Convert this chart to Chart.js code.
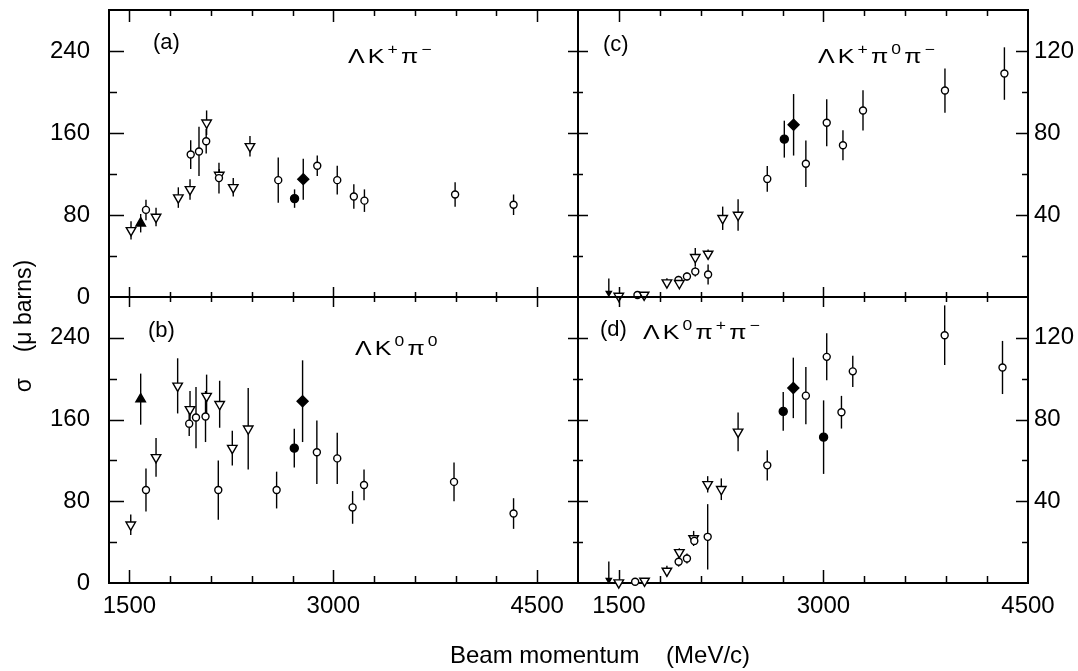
<!DOCTYPE html>
<html>
<head>
<meta charset="utf-8">
<script src="https://cdn.jsdelivr.net/npm/chart.js@4.4.0/dist/chart.umd.min.js"></script>
<style>
  html, body { margin: 0; padding: 0; background: #fff; }
  #wrap { position: relative; width: 1078px; height: 671px; }
  #wrap canvas { position: absolute; left: 0; top: 0; }
</style>
</head>
<body>
<div id="wrap">
  <canvas id="pa" width="1078" height="671"></canvas>
  <canvas id="pb" width="1078" height="671"></canvas>
  <canvas id="pc" width="1078" height="671"></canvas>
  <canvas id="pd" width="1078" height="671"></canvas>
</div>
<script>
// symbols: o open circle, v open down-triangle, t filled triangle,
// f filled circle, d filled diamond, arrow = upper limit
// (a) ΛK+π-
const momA = [1512, 1583, 1622, 1696, 1860, 1946, 1951, 2012, 2068, 2065, 2161, 2159, 2264, 2387, 2595, 2715, 2779, 2882, 3029, 3151, 3229, 3896, 4326];
const sigA = [65, 72, 85, 78, 97, 105, 139, 142, 170, 152, 119, 116, 107, 147, 114, 96, 115, 128, 114, 98, 94, 100, 90];
const errA = [9, 9, 10, 9, 10, 10, 14, 24, 12, 12, 6, 15, 9, 10, 22, 9, 20, 10, 14, 12, 11, 12, 10];
const symA = ['v', 't', 'o', 'v', 'v', 'v', 'o', 'o', 'v', 'o', 'v', 'o', 'v', 'v', 'o', 'f', 'd', 'o', 'o', 'o', 'o', 'o', 'o'];

// (b) ΛK0π0
const momB = [1510, 1583, 1622, 1696, 1855, 1946, 1940, 1990, 2068, 2060, 2164, 2154, 2257, 2374, 2583, 2713, 2774, 2879, 3029, 3142, 3226, 3888, 4326];
const sigB = [57, 180, 91, 123, 193, 170, 156, 162, 183, 163, 175, 91, 132, 151, 91, 132, 178, 128, 122, 74, 96, 99, 68];
const errB = [10, 25, 21, 19, 27, 18, 12, 30, 21, 25, 23, 29, 17, 40, 18, 19, 40, 31, 25, 16, 15, 19, 15];
const symB = ['v', 't', 'o', 'v', 'v', 'v', 'o', 'o', 'v', 'o', 'v', 'o', 'v', 'v', 'o', 'f', 'd', 'o', 'o', 'o', 'o', 'o', 'o'];

// (c) ΛK+π0π- (right hand scale)
const momC = [1426, 1499, 1636, 1685, 1852, 1937, 1943, 1999, 2060, 2060, 2154, 2154, 2261, 2374, 2588, 2713, 2781, 2871, 3024, 3143, 3290, 3891, 4327];
const sigC = [2, 0.5, 1, 1, 7, 8.3, 6.7, 10, 12.4, 19.4, 21, 11, 38.4, 40, 57.6, 77, 84, 65, 85, 74, 91, 100.7, 109];
const errC = [7, 0, 0, 0, 2.2, 2, 2, 2, 2.4, 4.5, 2.2, 4.9, 5.7, 7.7, 6.3, 9, 15, 11.4, 11.5, 7.3, 9.8, 10.8, 12.8];
const symC = ['arrow', 'v', 'o', 'v', 'v', 'o', 'v', 'o', 'o', 'v', 'v', 'o', 'v', 'v', 'o', 'f', 'd', 'o', 'o', 'o', 'o', 'o', 'o'];

// (d) ΛK0π+π- (right hand scale)
const momD = [1426, 1499, 1619, 1688, 1852, 1943, 1938, 1999, 2048, 2053, 2151, 2151, 2251, 2374, 2588, 2705, 2779, 2871, 3001, 3024, 3132, 3215, 3889, 4313];
const sigD = [1.5, 0.2, 0.6, 1, 5.9, 15, 10.4, 12, 21.8, 20.6, 22.6, 48.3, 45.9, 74, 57.6, 84, 95.5, 91.7, 71.4, 110.7, 83.6, 103.6, 121.3, 105.5];
const errD = [9, 0, 0, 0, 2.6, 2, 2.4, 2.4, 3.7, 2, 16, 4, 5.3, 9.5, 7.4, 9.5, 14.8, 14, 18, 11.5, 8, 7.7, 14.6, 13];
const symD = ['arrow', 'v', 'o', 'v', 'v', 'v', 'o', 'o', 'v', 'o', 'o', 'v', 'v', 'v', 'o', 'f', 'd', 'o', 'f', 'o', 'o', 'o', 'o', 'o'];

// axes
const xTickVals = [1500, 1800, 2100, 2400, 2700, 3000, 3300, 3600, 3900, 4200, 4500];
const xLabelVals = [1500, 3000, 4500];
const leftTickVals = [0, 40, 80, 120, 160, 200, 240, 280];
const leftLabelVals = [0, 80, 160, 240];
const rightTickVals = [0, 20, 40, 60, 80, 100, 120, 140];
const rightLabelVals = [40, 80, 120];

const yTitle = 'σ    (μ barns)';
const xTitle = 'Beam momentum    (MeV/c)';

const FONT = '"Liberation Sans", Arial, sans-serif';

const symStyle = {
    o: { style: 'circle', r: 3.5, fill: '#fff', rot: 0 },
    v: { style: 'triangle', r: 5.5, fill: '#fff', rot: 180 },
    t: { style: 'triangle', r: 5.5, fill: '#000', rot: 0 },
    f: { style: 'circle', r: 4, fill: '#000', rot: 0 },
    d: { style: 'rectRot', r: 5.5, fill: '#000', rot: 0 },
    arrow: { style: 'triangle', r: 3, fill: '#000', rot: 180 }
};

// error bars, drawn under the markers
const errorBars = {
    id: 'errorBars',
    beforeDatasetsDraw(chart) {
        const { ctx } = chart;
        const yScale = chart.scales.y;
        ctx.save();
        ctx.strokeStyle = '#000';
        ctx.lineWidth = 1.4;
        chart.data.datasets.forEach((ds, di) => {
            const meta = chart.getDatasetMeta(di);
            meta.data.forEach((el, i) => {
                const e = ds.errors[i];
                if (!e) return;
                const v = ds.data[i].y;
                const lo = ds.syms[i] === 'arrow' ? v : v - e;
                ctx.beginPath();
                ctx.moveTo(el.x, yScale.getPixelForValue(lo));
                ctx.lineTo(el.x, yScale.getPixelForValue(v + e));
                ctx.stroke();
            });
        });
        ctx.restore();
    }
};

// box with inward tick marks on every side
function framePlugin(len, yTicks, yLabels) {
    return {
        id: 'frame',
        beforeDatasetsDraw(chart) {
            const { ctx, chartArea: a } = chart;
            const x = chart.scales.x, y = chart.scales.y;
            ctx.save();
            ctx.strokeStyle = '#000';
            ctx.lineWidth = 2;
            ctx.strokeRect(a.left, a.top, a.right - a.left, a.bottom - a.top);
            ctx.lineWidth = 1.5;
            ctx.beginPath();
            xTickVals.forEach(v => {
                if (v <= x.min || v >= x.max) return;
                const px = Math.round(x.getPixelForValue(v)) + 0.5;
                const big = xLabelVals.includes(v) ? 0 : 1;
                ctx.moveTo(px, a.top); ctx.lineTo(px, a.top + len.top[big]);
                ctx.moveTo(px, a.bottom); ctx.lineTo(px, a.bottom - len.bottom[big]);
            });
            yTicks.forEach(v => {
                if (v <= y.min || v >= y.max) return;
                const py = Math.round(y.getPixelForValue(v)) + 0.5;
                const big = yLabels.includes(v) ? 0 : 1;
                ctx.moveTo(a.left, py); ctx.lineTo(a.left + len.left[big], py);
                ctx.moveTo(a.right, py); ctx.lineTo(a.right - len.right[big], py);
            });
            ctx.stroke();
            ctx.restore();
        }
    };
}

function drawFormula(ctx, x, y, parts) {
    ctx.save();
    ctx.translate(x, y);
    ctx.scale(1.25, 1);
    ctx.fillStyle = '#000';
    ctx.textAlign = 'left';
    ctx.textBaseline = 'alphabetic';
    let cx = 0;
    parts.forEach(([t, sup]) => {
        ctx.font = (sup ? '14px ' : '20px ') + FONT;
        ctx.fillText(t, cx, sup ? -9 : 0);
        cx += ctx.measureText(t).width + 2.5;
    });
    ctx.restore();
}

function labelPlugin(tag, tagPos, parts, formPos, titles) {
    return {
        id: 'labels',
        afterDraw(chart) {
            const { ctx } = chart;
            ctx.save();
            ctx.fillStyle = '#000';
            ctx.font = '22px ' + FONT;
            ctx.textBaseline = 'alphabetic';
            ctx.fillText(tag, tagPos[0], tagPos[1]);
            drawFormula(ctx, formPos[0], formPos[1], parts);
            if (titles) {
                ctx.font = '23px ' + FONT;
                ctx.save();
                ctx.translate(25, 326);
                ctx.rotate(-Math.PI / 2);
                ctx.textAlign = 'center';
                ctx.textBaseline = 'middle';
                ctx.fillText(yTitle, 0, 0);
                ctx.restore();
                ctx.font = '24px ' + FONT;
                ctx.fillText(xTitle, 450, 663);
            }
            ctx.restore();
        }
    };
}

function makeDataset(mom, sig, err, sym) {
    return {
        data: mom.map((m, i) => ({ x: m, y: sig[i] })),
        errors: err,
        syms: sym,
        pointStyle: sym.map(s => symStyle[s].style),
        pointRadius: sym.map(s => symStyle[s].r),
        pointBackgroundColor: sym.map(s => symStyle[s].fill),
        pointRotation: sym.map(s => symStyle[s].rot),
        pointBorderColor: '#000',
        pointBorderWidth: 1.4,
        showLine: false,
        clip: false
    };
}

function makePanel(id, cfg) {
    const tickFont = { family: FONT, size: 24 };
    return new Chart(document.getElementById(id), {
        type: 'scatter',
        data: { datasets: [makeDataset(cfg.mom, cfg.sig, cfg.err, cfg.sym)] },
        options: {
            responsive: false,
            animation: false,
            events: [],
            devicePixelRatio: 1,
            layout: { padding: cfg.padding, autoPadding: false },
            plugins: { legend: { display: false }, tooltip: { enabled: false } },
            scales: {
                x: {
                    type: 'linear',
                    min: cfg.xMin,
                    max: cfg.xMax,
                    display: cfg.showX,
                    grid: { display: false, drawTicks: false },
                    border: { display: false },
                    afterBuildTicks: s => { s.ticks = xLabelVals.map(v => ({ value: v })); },
                    afterFit: s => {
                        s.height = cfg.showX ? 40 : 0;
                        s.paddingLeft = 0;
                        s.paddingRight = 0;
                    },
                    ticks: { font: tickFont, color: '#000', padding: 9, maxRotation: 0, autoSkip: false, callback: v => String(v) }
                },
                y: {
                    type: 'linear',
                    position: cfg.yPos,
                    min: 0,
                    max: cfg.yMax,
                    grid: { display: false, drawTicks: false },
                    border: { display: false },
                    afterBuildTicks: s => { s.ticks = cfg.yLabels.map(v => ({ value: v })); },
                    afterFit: s => {
                        s.width = cfg.yWidth;
                        s.paddingTop = 0;
                        s.paddingBottom = 0;
                    },
                    ticks: { font: tickFont, color: '#000', padding: cfg.yPad, autoSkip: false, callback: v => String(v) }
                }
            }
        },
        plugins: [
            framePlugin(cfg.len, cfg.yTicks, cfg.yLabels),
            errorBars,
            labelPlugin(cfg.tag, cfg.tagPos, cfg.parts, cfg.formPos, cfg.titles)
        ]
    });
}

makePanel('pa', {
    mom: momA, sig: sigA, err: errA, sym: symA,
    xMin: 1350, xMax: 4800, showX: false, yPos: 'left', yMax: 280,
    yTicks: leftTickVals, yLabels: leftLabelVals, yWidth: 109, yPad: 19,
    padding: { left: 0, right: 500, top: 10, bottom: 374 },
    len: { top: [12, 6], bottom: [10, 5], left: [15, 8], right: [10, 5] },
    tag: '(a)', tagPos: [153, 49],
    parts: [['Λ', 0], ['K', 0], ['+', 1], ['π', 0], ['−', 1]], formPos: [348, 63]
});

makePanel('pb', {
    mom: momB, sig: sigB, err: errB, sym: symB,
    xMin: 1350, xMax: 4800, showX: true, yPos: 'left', yMax: 280,
    yTicks: leftTickVals, yLabels: leftLabelVals, yWidth: 109, yPad: 19,
    padding: { left: 0, right: 500, top: 297, bottom: 48 },
    len: { top: [10, 5], bottom: [13, 7], left: [15, 8], right: [10, 5] },
    tag: '(b)', tagPos: [148, 337],
    parts: [['Λ', 0], ['K', 0], ['0', 1], ['π', 0], ['0', 1]], formPos: [355, 355],
    titles: true
});

makePanel('pc', {
    mom: momC, sig: sigC, err: errC, sym: symC,
    xMin: 1200, xMax: 4500, showX: false, yPos: 'right', yMax: 140,
    yTicks: rightTickVals, yLabels: rightLabelVals, yWidth: 50, yPad: 6,
    padding: { left: 578, right: 0, top: 10, bottom: 374 },
    len: { top: [12, 6], bottom: [10, 5], left: [10, 5], right: [12, 6] },
    tag: '(c)', tagPos: [603, 51],
    parts: [['Λ', 0], ['K', 0], ['+', 1], ['π', 0], ['0', 1], ['π', 0], ['−', 1]], formPos: [818, 63]
});

makePanel('pd', {
    mom: momD, sig: sigD, err: errD, sym: symD,
    xMin: 1200, xMax: 4500, showX: true, yPos: 'right', yMax: 140,
    yTicks: rightTickVals, yLabels: rightLabelVals, yWidth: 50, yPad: 6,
    padding: { left: 578, right: 0, top: 297, bottom: 48 },
    len: { top: [10, 5], bottom: [13, 7], left: [10, 5], right: [12, 6] },
    tag: '(d)', tagPos: [600, 336],
    parts: [['Λ', 0], ['K', 0], ['0', 1], ['π', 0], ['+', 1], ['π', 0], ['−', 1]], formPos: [643, 339]
});
</script>
</body>
</html>
